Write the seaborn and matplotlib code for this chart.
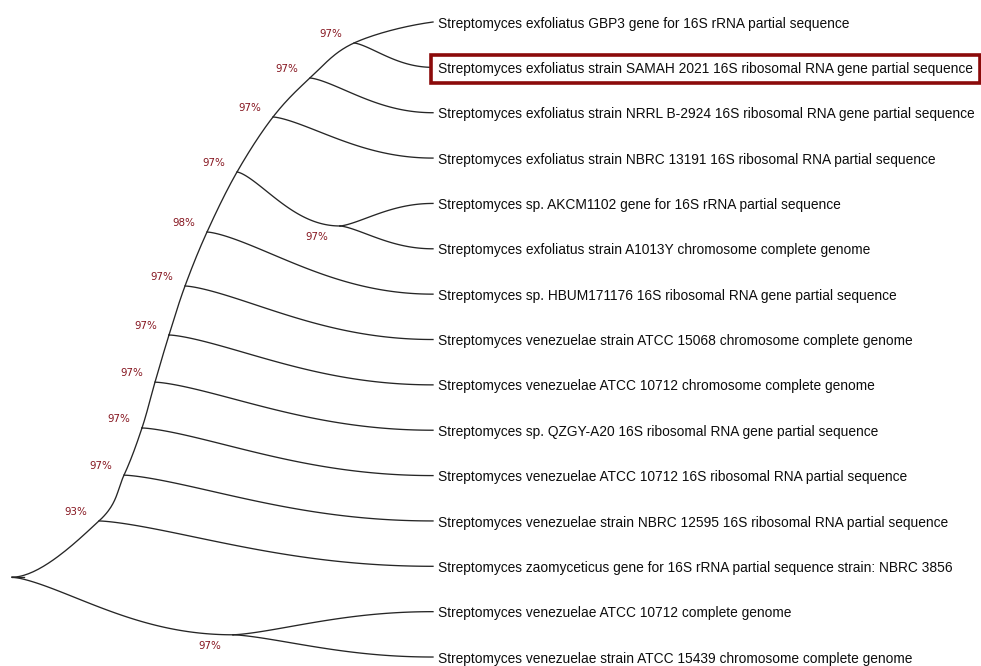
import numpy as np
import pandas as pd
import matplotlib
matplotlib.use("Agg")
import matplotlib.pyplot as plt
import seaborn as sns

# Leaf taxa, top to bottom
leaf_names = [
    "Streptomyces exfoliatus GBP3 gene for 16S rRNA partial sequence",
    "Streptomyces exfoliatus strain SAMAH 2021 16S ribosomal RNA gene partial sequence",
    "Streptomyces exfoliatus strain NRRL B-2924 16S ribosomal RNA gene partial sequence",
    "Streptomyces exfoliatus strain NBRC 13191 16S ribosomal RNA partial sequence",
    "Streptomyces sp. AKCM1102 gene for 16S rRNA partial sequence",
    "Streptomyces exfoliatus strain A1013Y chromosome complete genome",
    "Streptomyces sp. HBUM171176 16S ribosomal RNA gene partial sequence",
    "Streptomyces venezuelae strain ATCC 15068 chromosome complete genome",
    "Streptomyces venezuelae ATCC 10712 chromosome complete genome",
    "Streptomyces sp. QZGY-A20 16S ribosomal RNA gene partial sequence",
    "Streptomyces venezuelae ATCC 10712 16S ribosomal RNA partial sequence",
    "Streptomyces venezuelae strain NBRC 12595 16S ribosomal RNA partial sequence",
    "Streptomyces zaomyceticus gene for 16S rRNA partial sequence strain: NBRC 3856",
    "Streptomyces venezuelae ATCC 10712 complete genome",
    "Streptomyces venezuelae strain ATCC 15439 chromosome complete genome",
]
highlight_leaf = 1

# Internal nodes: depth along the tree, vertical row position, bootstrap support
node_ids = ["root", "L", "K", "J", "I", "H", "G", "F", "D", "C", "B", "A", "E", "M"]
node_depth = [12, 99, 124, 142, 155, 169, 185, 207, 237, 273, 310, 354, 340, 233]
node_row = [12.24, 11.0, 9.99, 8.95, 7.94, 6.90, 5.82, 4.63, 3.307, 2.094, 1.235, 0.463, 4.497, 13.51]
node_support = [None, 93, 97, 97, 97, 97, 97, 98, 97, 97, 97, 97, 97, 97]

# Spine of the ladder-like clade, from the root up to the first leaf
spine = ["root", "L", "K", "J", "I", "H", "G", "F", "D", "C", "B", "A", 0]

# Side branches (parent -> child); integers are leaves
branches = [
    ("L", 12), ("K", 11), ("J", 10), ("I", 9), ("H", 8), ("G", 7), ("F", 6),
    ("D", "E"), ("E", 4), ("E", 5), ("C", 3), ("B", 2), ("A", 1),
    ("root", "M"), ("M", 13), ("M", 14),
]

TIP_DEPTH = 433
LINE_COLOR = "#262626"
SUPPORT_COLOR = "#861620"

nodes = {n: (d, r) for n, d, r in zip(node_ids, node_depth, node_row)}


def pos(key):
    if isinstance(key, int):
        return (TIP_DEPTH, float(key))
    return nodes[key]


def s_curve(p0, p1, n=100, skew=0.72):
    # smooth step that leaves and arrives horizontally, turning early
    t = np.linspace(0, 1, n)
    x = p0[0] + (p1[0] - p0[0]) * t
    y = p0[1] + (p1[1] - p0[1]) * (1 - np.cos(np.pi * t ** skew)) / 2
    return x, y


def catmull_rom(pts, n=40):
    pts = np.asarray(pts, float)
    out = []
    for i in range(1, len(pts) - 2):
        p0, p1, p2, p3 = pts[i - 1], pts[i], pts[i + 1], pts[i + 2]
        t = np.linspace(0, 1, n)[:, None]
        seg = 0.5 * ((2 * p1) + (-p0 + p2) * t + (2 * p0 - 5 * p1 + 4 * p2 - p3) * t ** 2
                     + (-p0 + 3 * p1 - 3 * p2 + p3) * t ** 3)
        out.append(seg)
    return np.vstack(out)


rows = []
# spine curve, leaving the root horizontally and reaching the tip horizontally
spine_pts = [pos(k) for k in spine]
start_pad = (spine_pts[0][0] - 87, spine_pts[1][1])
end_pad = (spine_pts[-1][0] + 80, spine_pts[-1][1])
curve = catmull_rom([start_pad] + spine_pts + [end_pad])
for x, y in curve:
    rows.append({"seg": "spine", "x": x, "y": y})
# root stub
for x in (pos("root")[0], pos("root")[0] + 12):
    rows.append({"seg": "stub", "x": x, "y": pos("root")[1]})

for i, (a, b) in enumerate(branches):
    xs, ys = s_curve(pos(a), pos(b))
    for x, y in zip(xs, ys):
        rows.append({"seg": f"b{i}", "x": x, "y": y})

edges = pd.DataFrame(rows)

fig = plt.figure(figsize=(9.81, 6.66), dpi=100)
ax = fig.add_axes([0, 0, 1, 1])
sns.lineplot(data=edges, x="x", y="y", units="seg", estimator=None, sort=False,
             color=LINE_COLOR, linewidth=0.95, ax=ax)

ax.set_xlim(0, 981)
ax.set_ylim(14.198, -0.485)
ax.axis("off")

for i, name in enumerate(leaf_names):
    kw = dict(fontsize=9.9, family="Liberation Sans", color="#0d0d0d",
              ha="left", va="center")
    if i == highlight_leaf:
        kw["bbox"] = dict(boxstyle="square,pad=0.5", fc="white", ec="#8b0a0a", lw=2.6)
    ax.text(TIP_DEPTH + 5, i + 0.035, name, **kw)

# bootstrap support labels; the two terminal clades are labelled below their node
below = {"E", "M"}
for n, d, r, s in zip(node_ids, node_depth, node_row, node_support):
    if s is None:
        continue
    dy = 0.24 if n in below else -0.2
    ax.text(d - 23, r + dy, f"{s}%", fontsize=7.4, family="DejaVu Sans",
            color=SUPPORT_COLOR, ha="center", va="center")

fig.savefig("out.png", dpi=100, facecolor="white")
